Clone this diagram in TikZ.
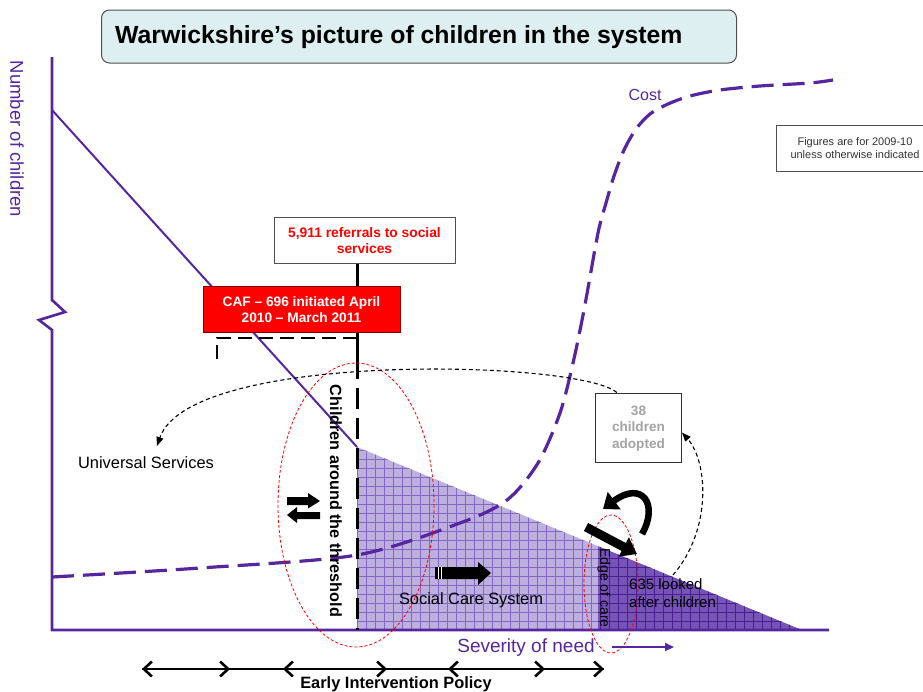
\documentclass[tikz,border=0pt]{standalone}
\usepackage{fontspec}
\setmainfont{Liberation Sans}
\usetikzlibrary{arrows.meta,calc}
\definecolor{purp}{HTML}{5626A0}
\definecolor{titlefill}{HTML}{DDEFF0}
\definecolor{lightfill}{HTML}{BEB0DE}
\definecolor{lightgrid}{HTML}{8466C4}
\definecolor{darkfill}{HTML}{7654B6}
\definecolor{darkgrid}{HTML}{4A1E92}
\definecolor{boxgray}{HTML}{505050}
\definecolor{adoptgray}{HTML}{A4A4A4}
\definecolor{cafred}{HTML}{FF0000}
\newcommand{\fs}[1]{\fontsize{#1}{#1}\selectfont}
\tikzset{
  axisline/.style={purp, line width=2.6, line join=miter},
  diagline/.style={purp, line width=2},
  costline/.style={purp, line width=3.2, dash pattern=on 22 off 9},
  threshline/.style={black, line width=3},
  bracketline/.style={black, line width=2, dash pattern=on 14 off 7},
  redell/.style={red, line width=0.8, dash pattern=on 3 off 2},
  blackdash/.style={black, line width=1.1, dash pattern=on 4 off 3, -{Triangle[length=9pt,width=7pt]}},
  plainbox/.style={draw=boxgray, line width=1, fill=white, inner sep=0},
  blockarrow/.style={fill=black, draw=none},
  spanarrow/.style={black, line width=2.6},
}
\begin{document}
\begin{tikzpicture}[x=1pt,y=-1pt]
\useasboundingbox (0,0) rectangle (923,691);

% shaded social-care triangle
\begin{scope}
  \clip (357,447) -- (802,630) -- (357,630) -- cycle;
  \fill[lightfill] (350,440) rectangle (598,635);
  \fill[darkfill] (598,440) rectangle (810,635);
  \begin{scope}
    \clip (350,440) rectangle (598,635);
    \foreach \x in {357,366,...,600} \draw[lightgrid, line width=0.8] (\x,440) -- (\x,635);
    \foreach \y in {630,621,...,440} \draw[lightgrid, line width=0.8] (350,\y) -- (600,\y);
  \end{scope}
  \begin{scope}
    \clip (598,440) rectangle (810,635);
    \foreach \x in {600,609,...,810} \draw[darkgrid, line width=0.9] (\x,440) -- (\x,635);
    \foreach \y in {630,621,...,440} \draw[darkgrid, line width=0.9] (598,\y) -- (810,\y);
  \end{scope}
\end{scope}

% axes
\coordinate (ytop) at (52,57);
\coordinate (origin) at (52,630);
\coordinate (xend) at (829,630);
\draw[axisline] (ytop) -- (52,300) -- (65,312) -- (39,320) -- (52,330) -- (origin) -- (xend);
\node[purp, rotate=-90, font=\fs{18.5}] (ylab) at (17,139) {Number of children};

% number of children diagonal
\coordinate (dtop) at (52,110);
\coordinate (dbot) at (357,447);
\draw[diagline] (dtop) -- (dbot);

% cost curve
\draw[costline] plot[smooth, tension=0.5] coordinates {
  (52,577) (200,568) (357,555) (460,523) (507,500) (538,463) (560,413)
  (573,363) (584,310) (598,233) (606,203) (614,176) (624,150) (636,129)
  (650,114) (668,104) (690,96) (720,90) (760,86) (810,83) (833,80)};
\node[purp, font=\fs{16}] (cost) at (645,95) {Cost};

% title
\node[draw=boxgray, line width=1, fill=titlefill, rounded corners=8,
      minimum width=635, minimum height=53, inner sep=0] (title) at (419,36.5) {};
\node[anchor=west, font=\bfseries\fs{24.8}, inner sep=0] (titletext) at (115,37.5)
  {Warwickshire’s picture of children in the system};

% figures note
\node[plainbox, minimum width=156, minimum height=46] (fig) at (854,148) {};
\node[align=center, font=\fontsize{11}{13}\selectfont, inner sep=0, text=black!80] (figtext) at (855,148)
  {Figures are for 2009-10\\unless otherwise indicated};

% threshold line, referrals and CAF boxes
\coordinate (thr) at (357,630);
\coordinate (thrmid) at (357,358);
\node[plainbox, minimum width=181, minimum height=46] (ref) at (364.5,240) {};
\node[align=center, text=red, font=\bfseries\fontsize{13.8}{16}\selectfont, inner sep=0] (reftext) at (364.5,241)
  {5,911 referrals to social\\services};
\draw[threshline] (ref.south -| thr) -- (thrmid);
\draw[threshline, dash pattern=on 21 off 9] (thrmid) -- (thr);
\draw[bracketline] (thr |- 0,338) -- (217,338) -- (217,362);
\node[fill=cafred, draw=red!55!black, line width=1, minimum width=197, minimum height=46, inner sep=0] (caf) at (301.5,309) {};
\node[align=center, text=white, font=\bfseries\fontsize{13.7}{16}\selectfont, inner sep=0] (caftext) at (301.5,310)
  {CAF – 696 initiated April\\2010 – March 2011};

% red dashed ellipses
\draw[redell] (356,505) ellipse [x radius=78, y radius=142];
\draw[redell] (611,584) ellipse [x radius=27, y radius=69];

% labels
\node[rotate=-90, font=\bfseries\fs{16.2}, inner sep=0] (thrlab) at (336,501) {Children around the threshold};
\node[font=\fs{16.4}, inner sep=0] (univ) at (146,463) {Universal Services};
\node[font=\fs{16.4}, inner sep=0] (scs) at (471,600) {Social Care System};
\node[rotate=-90, font=\fs{14}, inner sep=0] (edge) at (604,588) {Edge of care};
\node[anchor=west, align=left, font=\fontsize{15}{18.5}\selectfont, inner sep=0] (lac) at (629,593)
  {635 looked\\after children};

% adopted box
\node[plainbox, minimum width=86, minimum height=69, draw=black!80] (adopt) at (638.5,427.5) {};
\node[align=center, text=adoptgray, font=\bfseries\fontsize{13.6}{16.2}\selectfont, inner sep=0] (adopttext) at (638.5,428.5)
  {38\\children\\adopted};

% dashed curved arrows
\draw[blackdash] ($(adopt.north west)!0.25!(adopt.north east)$) .. controls (580,360) and (190,350) .. (157,446);
\coordinate (lacstart) at (673,575);
\draw[blackdash] (lacstart) .. controls (712,530) and (708,462) .. ($(adopt.east)+(0,5)$);

% block arrows at threshold
\fill[blockarrow] (287,497) -- (308,497) -- (308,493) -- (320,501) -- (308,508.5) -- (308,505) -- (287,505) -- cycle;
\fill[blockarrow] (320,512) -- (297,512) -- (297,507) -- (287,515) -- (297,523) -- (297,519) -- (320,519) -- cycle;

% social care arrow
\fill[blockarrow] (435,567) -- (478,567) -- (478,562) -- (491,573) -- (478,585) -- (478,579) -- (435,579) -- cycle;
\draw[white, line width=0.7] (438.5,567) -- (438.5,579) (441.5,567) -- (441.5,579);

% edge-of-care arrows
\draw[black, line width=9, -{Triangle[length=15pt,width=21pt]}] (586,527) -- (637,554);
\draw[black, line width=6.5, -{Triangle[length=14pt,width=21pt]}] (642,534) .. controls (659,504) and (642,480) .. (603,509);

% severity of need
\node[purp, font=\fs{19}, inner sep=0] (sev) at (526,648) {Severity of need};
\coordinate (sevs) at (612,647);
\coordinate (seve) at (674,647);
\draw[purp, line width=1.6, -{Triangle[length=9pt,width=8pt]}] (sevs) -- (seve);

% early intervention span arrows
\coordinate (e1) at (142,669);
\coordinate (e2) at (230,669);
\coordinate (e3) at (283,669);
\coordinate (e4) at (387,669);
\coordinate (e5) at (448,669);
\coordinate (e6) at (545,669);
\coordinate (e7) at (604,669);
\draw[spanarrow] (e1) -- (e7);
\draw[spanarrow, -{Straight Barb[length=8pt,width=15pt]}] (e2) -- (e1);
\draw[spanarrow, -{Straight Barb[length=8pt,width=15pt]}] (e1) -- (e2);
\draw[spanarrow, -{Straight Barb[length=8pt,width=15pt]}] (e4) -- (e3);
\draw[spanarrow, -{Straight Barb[length=8pt,width=15pt]}] (e3) -- (e4);
\draw[spanarrow, -{Straight Barb[length=8pt,width=15pt]}] (e6) -- (e5);
\draw[spanarrow, -{Straight Barb[length=8pt,width=15pt]}] (e5) -- (e6);
\draw[spanarrow, -{Straight Barb[length=8pt,width=15pt]}] (e6) -- (e7);
\node[font=\bfseries\fs{16.4}, inner sep=0] (eip) at (396,684) {Early Intervention Policy};
\end{tikzpicture}
\end{document}
